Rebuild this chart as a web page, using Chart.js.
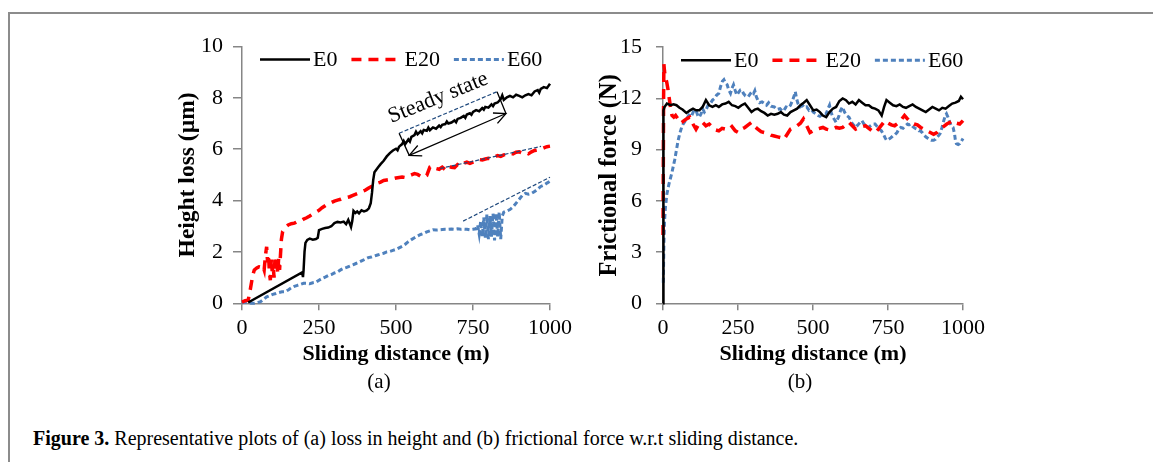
<!DOCTYPE html>
<html>
<head>
<meta charset="utf-8">
<script src="https://cdn.jsdelivr.net/npm/chart.js@4.4.1/dist/chart.umd.min.js"></script>
<style>
  body { margin: 0; width: 1153px; height: 462px; background: #fff; position: relative; overflow: hidden;
         font-family: 'Liberation Serif', 'Times New Roman', serif; color: #000; }
  #frame { position: absolute; left: 8px; top: 12px; width: 1200px; height: 500px;
           border-top: 2px solid #8c8c8c; border-left: 2px solid #8c8c8c; }
  canvas { position: absolute; }
  #chartA { left: 150px; top: 20px; }
  #chartB { left: 560px; top: 20px; }
  .sub { position: absolute; top: 369px; font-size: 21px; width: 60px; margin-left: -30px; text-align: center; }
  #caption { position: absolute; left: 33px; top: 427px; font-size: 20px; white-space: nowrap; }
</style>
</head>
<body>
<div id="frame"></div>
<canvas id="chartA" width="430" height="350"></canvas>
<canvas id="chartB" width="430" height="350"></canvas>
<div class="sub" style="left:379px">(a)</div>
<div class="sub" style="left:800px">(b)</div>
<div id="caption"><b>Figure 3.</b> Representative plots of (a) loss in height and (b) frictional force w.r.t sliding distance.</div>

<script>
// ---- (a) height loss (µm) vs sliding distance (m)
const heightE0 = [[20,0.03],[195,1.2],[198,1.02],[200,1.3],[203,2.0],[206,2.35],[212,2.47],[220,2.52],[230,2.48],[240,2.5],[246,2.55],[250,2.85],[260,2.9],[270,2.93],[280,2.95],[290,3.0],[300,3.12],[310,3.17],[320,3.15],[330,3.18],[338,3.08],[345,3.25],[350,3.1],[354,2.97],[358,3.2],[362,3.6],[368,3.52],[374,3.58],[380,3.5],[388,3.62],[396,3.58],[405,3.62],[412,3.7],[418,3.9],[422,4.3],[426,4.8],[430,5.1],[436,5.2],[442,5.3],[450,5.42],[460,5.55],[470,5.72],[480,5.85],[490,5.95],[500,6.02],[505,5.96],[510,6.1],[520,6.2],[525,6.32],[530,6.2],[540,6.38],[545,6.3],[550,6.48],[560,6.55],[565,6.68],[570,6.58],[580,6.7],[585,6.62],[590,6.75],[600,6.72],[605,6.84],[610,6.74],[620,6.85],[630,6.8],[640,6.92],[645,6.86],[650,6.95],[660,6.98],[665,7.08],[670,7.0],[680,7.04],[690,7.12],[695,7.05],[700,7.18],[710,7.22],[720,7.3],[725,7.22],[730,7.35],[740,7.4],[745,7.34],[750,7.45],[760,7.52],[770,7.48],[780,7.6],[785,7.54],[790,7.65],[800,7.62],[810,7.75],[815,7.68],[820,7.78],[830,7.82],[840,7.95],[845,8.1],[850,7.92],[860,8.02],[870,8.08],[880,8.02],[890,8.12],[900,8.08],[910,8.02],[920,8.1],[930,8.15],[940,8.1],[950,8.25],[960,8.3],[965,8.2],[970,8.35],[980,8.42],[990,8.38],[1000,8.55]];
const heightE20 = [[0,0.05],[10,0.1],[20,0.12],[25,0.4],[30,0.75],[35,1.1],[40,1.3],[48,1.38],[55,1.42],[62,1.4],[68,1.45],[72,1.3],[76,1.85],[80,2.2],[83,1.6],[86,1.9],[89,1.2],[92,0.9],[95,1.7],[98,1.25],[101,1.55],[104,1.0],[107,1.7],[110,1.35],[113,1.8],[116,1.15],[119,1.75],[122,1.3],[125,1.9],[128,2.5],[132,2.8],[140,2.95],[150,3.05],[160,3.1],[170,3.12],[180,3.18],[190,3.2],[200,3.28],[210,3.33],[220,3.4],[230,3.48],[240,3.55],[250,3.62],[260,3.72],[270,3.8],[280,3.88],[290,3.92],[300,3.98],[310,4.02],[320,4.05],[330,4.1],[340,4.12],[350,4.15],[360,4.2],[370,4.25],[380,4.3],[390,4.35],[400,4.4],[410,4.48],[420,4.55],[430,4.6],[440,4.68],[450,4.72],[460,4.78],[470,4.8],[480,4.82],[490,4.85],[500,4.88],[510,4.9],[520,4.92],[530,4.9],[540,4.95],[550,5.0],[560,5.05],[570,5.02],[580,4.95],[590,4.9],[600,4.98],[610,5.3],[620,5.35],[630,5.25],[640,5.22],[650,5.3],[660,5.2],[670,5.35],[680,5.3],[690,5.28],[700,5.4],[710,5.35],[720,5.45],[730,5.5],[740,5.45],[750,5.5],[760,5.55],[770,5.6],[780,5.58],[790,5.62],[800,5.65],[810,5.62],[820,5.7],[830,5.75],[840,5.72],[850,5.78],[860,5.8],[870,5.85],[880,5.82],[890,5.88],[900,5.9],[910,5.85],[920,5.88],[930,5.82],[940,5.9],[950,5.95],[960,5.98],[970,6.0],[980,6.05],[990,6.1],[1000,6.12]];
const heightE60 = [[0,0.02],[10,0.05],[20,0.02],[30,0.0],[40,0.0],[50,0.02],[60,0.06],[70,0.15],[80,0.25],[90,0.3],[100,0.35],[110,0.38],[120,0.42],[130,0.45],[140,0.45],[150,0.52],[160,0.6],[170,0.66],[180,0.7],[190,0.74],[200,0.78],[210,0.78],[220,0.76],[230,0.8],[240,0.82],[250,0.9],[260,0.97],[270,1.02],[280,1.08],[290,1.12],[300,1.18],[310,1.22],[320,1.3],[330,1.36],[340,1.4],[350,1.45],[360,1.5],[370,1.55],[380,1.6],[390,1.66],[400,1.72],[410,1.78],[420,1.8],[430,1.84],[440,1.88],[450,1.92],[460,1.95],[470,2.0],[480,2.02],[490,2.06],[500,2.1],[510,2.16],[520,2.22],[530,2.3],[540,2.4],[550,2.48],[560,2.55],[570,2.62],[580,2.68],[590,2.72],[600,2.78],[610,2.82],[620,2.86],[630,2.85],[640,2.86],[650,2.87],[660,2.88],[670,2.88],[680,2.89],[690,2.88],[700,2.9],[710,2.88],[720,2.89],[730,2.88],[740,2.86],[750,2.88],[760,2.9],[765,3.05],[770,2.7],[775,3.2],[780,2.6],[785,3.35],[790,2.55],[795,3.45],[800,2.5],[805,3.4],[810,2.6],[815,3.5],[820,2.45],[825,3.5],[830,2.6],[835,3.55],[840,2.5],[845,3.4],[850,3.55],[860,3.6],[870,3.65],[880,3.75],[890,3.9],[900,4.05],[910,4.2],[920,4.28],[930,4.25],[940,4.28],[950,4.35],[960,4.45],[970,4.55],[980,4.6],[990,4.68],[1000,4.75]];

// ---- (b) frictional force (N) vs sliding distance (m)
const forceE0 = [[0,0],[1,5],[2,11.3],[5,11.5],[13,11.7],[25,11.6],[35,11.65],[45,11.6],[55,11.45],[65,11.35],[78,11.15],[90,11.3],[100,11.4],[110,11.3],[121,11.3],[132,11.5],[143,11.9],[154,11.6],[165,11.5],[176,11.6],[186,11.5],[197,11.65],[208,11.7],[219,11.8],[230,11.6],[241,11.55],[251,11.45],[262,11.6],[273,11.7],[284,11.45],[295,11.2],[306,11.35],[316,11.4],[327,11.25],[338,11.15],[349,11.0],[360,11.1],[371,11.05],[382,11.1],[393,11.2],[403,11.05],[414,11.0],[425,11.2],[436,11.3],[447,11.4],[458,11.6],[469,11.75],[479,11.9],[490,11.6],[501,11.3],[512,11.35],[523,11.2],[533,11.0],[544,10.9],[555,11.2],[566,11.4],[577,11.5],[588,11.85],[599,12.0],[610,11.9],[620,11.7],[631,11.8],[642,11.65],[653,11.9],[664,11.75],[675,11.6],[686,11.6],[697,11.45],[707,11.4],[718,11.3],[729,11.0],[737,11.5],[745,11.9],[756,11.75],[767,11.6],[778,11.55],[789,11.65],[800,11.5],[810,11.45],[821,11.55],[832,11.65],[843,11.5],[854,11.4],[865,11.3],[876,11.2],[887,11.35],[898,11.5],[909,11.4],[920,11.3],[931,11.45],[942,11.4],[953,11.55],[964,11.7],[975,11.75],[986,11.85],[993,12.1],[1000,11.95]];
const forceE20 = [[0,4.0],[1,8],[2,12],[3,14],[5,13.6],[8,13.2],[12,13.0],[16,12.6],[20,12.1],[25,11.5],[30,11.0],[36,10.9],[42,11.0],[50,10.8],[58,10.9],[67,10.65],[78,10.8],[89,10.9],[100,10.5],[110,10.2],[121,10.55],[132,10.6],[143,10.4],[154,10.5],[165,10.3],[176,10.15],[186,10.1],[197,10.25],[208,10.2],[219,10.15],[230,10.35],[241,10.1],[251,10.0],[262,10.2],[273,10.3],[284,10.45],[295,10.6],[306,10.35],[316,10.2],[327,10.05],[338,10.0],[349,9.95],[360,9.85],[371,9.8],[382,9.75],[393,9.7],[403,9.6],[414,9.9],[425,10.2],[436,10.3],[447,10.4],[458,10.55],[468,10.8],[479,10.4],[490,10.0],[501,10.1],[512,10.2],[523,10.25],[533,10.3],[544,10.2],[555,10.15],[566,10.2],[577,10.3],[588,10.25],[599,10.3],[610,10.45],[620,10.6],[631,10.4],[642,10.2],[653,10.3],[664,10.35],[675,10.4],[686,10.25],[697,10.1],[707,10.0],[718,10.2],[729,10.45],[740,10.7],[751,10.55],[761,10.45],[772,10.4],[783,10.55],[794,10.75],[805,11.0],[815,10.8],[826,10.6],[837,10.5],[848,10.45],[859,10.3],[870,10.2],[880,10.1],[891,10.0],[902,9.9],[913,10.0],[924,10.2],[935,10.35],[946,10.5],[957,10.6],[967,10.7],[978,10.55],[989,10.5],[1000,10.7]];
const forceE60 = [[1,1.2],[3,3.5],[5,4.8],[8,5.6],[13,6.4],[20,7.0],[29,7.6],[39,8.4],[45,9.0],[50,9.5],[56,9.95],[62,10.3],[67,10.5],[75,10.7],[82,10.9],[89,11.1],[96,11.0],[103,11.3],[110,11.3],[116,11.0],[121,10.9],[127,11.1],[132,11.4],[138,11.2],[143,11.3],[150,11.6],[158,11.7],[165,11.9],[172,12.0],[179,12.2],[186,12.3],[192,12.7],[198,13.0],[203,13.1],[208,12.9],[214,12.8],[219,12.5],[225,12.3],[230,12.6],[235,12.8],[240,12.5],[246,12.2],[252,12.35],[258,12.5],[262,12.5],[268,12.3],[275,12.15],[284,12.1],[290,12.25],[297,12.4],[302,12.3],[306,12.45],[311,12.1],[316,11.9],[322,11.75],[330,11.8],[338,11.7],[345,11.6],[352,11.75],[360,11.55],[371,11.5],[380,11.35],[390,11.4],[398,11.25],[403,11.3],[410,11.5],[418,11.45],[425,11.6],[432,11.9],[438,12.2],[441,12.4],[445,12.0],[450,11.7],[457,11.5],[465,11.6],[472,11.45],[479,11.5],[487,11.3],[494,11.35],[501,11.2],[510,11.1],[517,11.0],[523,10.95],[530,11.05],[537,11.1],[544,11.1],[550,11.4],[555,11.6],[560,11.2],[566,10.9],[572,10.75],[577,10.6],[585,10.9],[592,11.3],[598,11.5],[605,11.2],[612,11.0],[620,10.9],[628,10.6],[635,10.45],[642,10.3],[650,10.45],[657,10.6],[663,10.7],[670,10.5],[677,10.35],[685,10.3],[692,10.4],[700,10.5],[707,10.5],[714,10.35],[721,10.2],[728,10.1],[735,9.9],[740,9.7],[745,9.55],[752,9.6],[760,9.7],[766,9.8],[772,9.85],[780,10.0],[786,10.2],[793,10.3],[800,10.25],[808,10.4],[815,10.5],[820,10.45],[826,10.5],[833,10.35],[840,10.25],[847,10.2],[853,10.1],[858,10.1],[864,10.0],[870,9.85],[876,9.75],[880,9.7],[887,9.6],[894,9.55],[902,9.55],[908,9.6],[915,9.75],[920,9.85],[924,9.95],[930,10.3],[936,10.7],[941,11.0],[945,11.1],[950,10.9],[956,10.6],[961,10.4],[967,10.3],[972,9.9],[975,9.5],[978,9.35],[984,9.3],[989,9.35],[995,9.5],[1000,9.65]];

const seriesNames = ['E0', 'E20', 'E60'];
const xTicks = [0, 250, 500, 750, 1000];

// steady-state guide lines on (a), in data units
const steadyTop = [[510, 6.62], [828, 8.24]];
const steadyArrow = [[543, 5.76], [857, 7.39]];
const guideE20 = [[643, 5.25], [971, 6.11]];
const guideE60 = [[718, 3.2], [1000, 4.91]];
const steadyLabelAt = [637, 8.0];

const serif = "'Liberation Serif', 'Times New Roman', serif";
Chart.defaults.font.family = serif;
Chart.defaults.color = '#000';

function makeSets(e0, e20, e60) {
    return [
        { label: seriesNames[0], data: e0, borderColor: '#000000', borderWidth: 2.5 },
        { label: seriesNames[1], data: e20, borderColor: '#ff0000', borderWidth: 3.5, borderDash: [10, 7] },
        { label: seriesNames[2], data: e60, borderColor: '#4f81bd', borderWidth: 3, borderDash: [5, 3] }
    ].map(d => Object.assign(d, { pointRadius: 0, tension: 0, fill: false, clip: 6 }));
}

const legendInside = {
    id: 'legendInside',
    afterDatasetsDraw(chart) {
        const { ctx, chartArea } = chart;
        let x = chartArea.left + 18;
        const y = chartArea.top + 13;
        ctx.save();
        ctx.font = '22px ' + serif;
        ctx.textBaseline = 'middle';
        chart.data.datasets.forEach(ds => {
            ctx.strokeStyle = ds.borderColor;
            ctx.lineWidth = ds.borderWidth;
            ctx.setLineDash(ds.borderDash || []);
            ctx.beginPath();
            ctx.moveTo(x, y);
            ctx.lineTo(x + 50, y);
            ctx.stroke();
            x += 53;
            ctx.fillStyle = '#000';
            ctx.fillText(ds.label, x, y + 1);
            x += ctx.measureText(ds.label).width + 14;
        });
        ctx.restore();
    }
};

const steadyNotes = {
    id: 'steadyNotes',
    afterDatasetsDraw(chart) {
        if (chart.canvas.id !== 'chartA') return;
        const { ctx, scales } = chart;
        const px = p => [scales.x.getPixelForValue(p[0]), scales.y.getPixelForValue(p[1])];
        ctx.save();
        // dashed guides
        ctx.strokeStyle = '#1f497d';
        ctx.lineWidth = 1.2;
        ctx.setLineDash([4, 2]);
        [steadyTop, guideE20, guideE60].forEach(seg => {
            const a = px(seg[0]), b = px(seg[1]);
            ctx.beginPath(); ctx.moveTo(a[0], a[1]); ctx.lineTo(b[0], b[1]); ctx.stroke();
        });
        // brackets and arrow
        ctx.setLineDash([]);
        ctx.strokeStyle = '#000';
        ctx.lineWidth = 1.3;
        const t0 = px(steadyTop[0]), t1 = px(steadyTop[1]);
        const a0 = px(steadyArrow[0]), a1 = px(steadyArrow[1]);
        ctx.beginPath();
        ctx.moveTo(t0[0], t0[1]); ctx.lineTo(a0[0], a0[1]);
        ctx.moveTo(t1[0], t1[1]); ctx.lineTo(a1[0], a1[1]);
        ctx.moveTo(a0[0], a0[1]); ctx.lineTo(a1[0], a1[1]);
        ctx.stroke();
        const ang = Math.atan2(a1[1] - a0[1], a1[0] - a0[0]);
        const head = (p, dir) => {
            ctx.beginPath();
            ctx.moveTo(p[0] + 13 * Math.cos(dir - 0.45), p[1] + 13 * Math.sin(dir - 0.45));
            ctx.lineTo(p[0], p[1]);
            ctx.lineTo(p[0] + 13 * Math.cos(dir + 0.45), p[1] + 13 * Math.sin(dir + 0.45));
            ctx.stroke();
        };
        head(a0, ang);
        head(a1, ang + Math.PI);
        // label
        const c = px(steadyLabelAt);
        ctx.translate(c[0], c[1]);
        ctx.rotate(-22 * Math.PI / 180);
        ctx.font = '22px ' + serif;
        ctx.textAlign = 'center';
        ctx.textBaseline = 'middle';
        ctx.fillStyle = '#000';
        ctx.fillText('Steady state', 0, 0);
        ctx.restore();
    }
};

function makeOptions(yMax, yStep, yTitle, yTitleSize, yWidth, yTitlePad, yTickLen, yTickPad, padRight) {
    return {
        responsive: false,
        animation: false,
        events: [],
        layout: { padding: { left: 0, right: padRight, top: 26.5, bottom: 0 } },
        plugins: { legend: { display: false }, tooltip: { enabled: false } },
        scales: {
            x: {
                type: 'linear', min: 0, max: 1000,
                afterBuildTicks: s => { s.ticks = xTicks.map(v => ({ value: v })); },
                afterFit: s => { s.height = 66.7; },
                ticks: { font: { size: 22 }, padding: 5, maxRotation: 0, callback: v => String(v) },
                grid: { drawOnChartArea: false, tickLength: 7, color: '#868686', lineWidth: 1.5 },
                border: { color: '#868686', width: 1.5 },
                title: { display: true, text: 'Sliding distance (m)', font: { size: 22, weight: 'bold' }, padding: { top: 0, bottom: 2 } }
            },
            y: {
                min: 0, max: yMax,
                ticks: { stepSize: yStep, font: { size: 22 }, padding: yTickPad },
                afterFit: s => { s.width = yWidth; },
                grid: { drawOnChartArea: false, tickLength: yTickLen, color: '#868686', lineWidth: 1.5 },
                border: { color: '#868686', width: 1.5 },
                title: { display: true, text: yTitle, font: { size: yTitleSize, weight: 'bold' }, padding: { top: yTitlePad, bottom: 0 } }
            }
        }
    };
}

new Chart(document.getElementById('chartA'), {
    type: 'line',
    data: { datasets: makeSets(heightE0, heightE20, heightE60) },
    options: makeOptions(10, 2, 'Height loss (µm)', 23.5, 92, 24, 9, 10, 30),
    plugins: [legendInside, steadyNotes]
});

new Chart(document.getElementById('chartB'), {
    type: 'line',
    data: { datasets: makeSets(forceE0, forceE20, forceE60) },
    options: makeOptions(15, 3, 'Frictional force (N)', 24.5, 103, 35, 7, 14, 20),
    plugins: [legendInside]
});
</script>
</body>
</html>
